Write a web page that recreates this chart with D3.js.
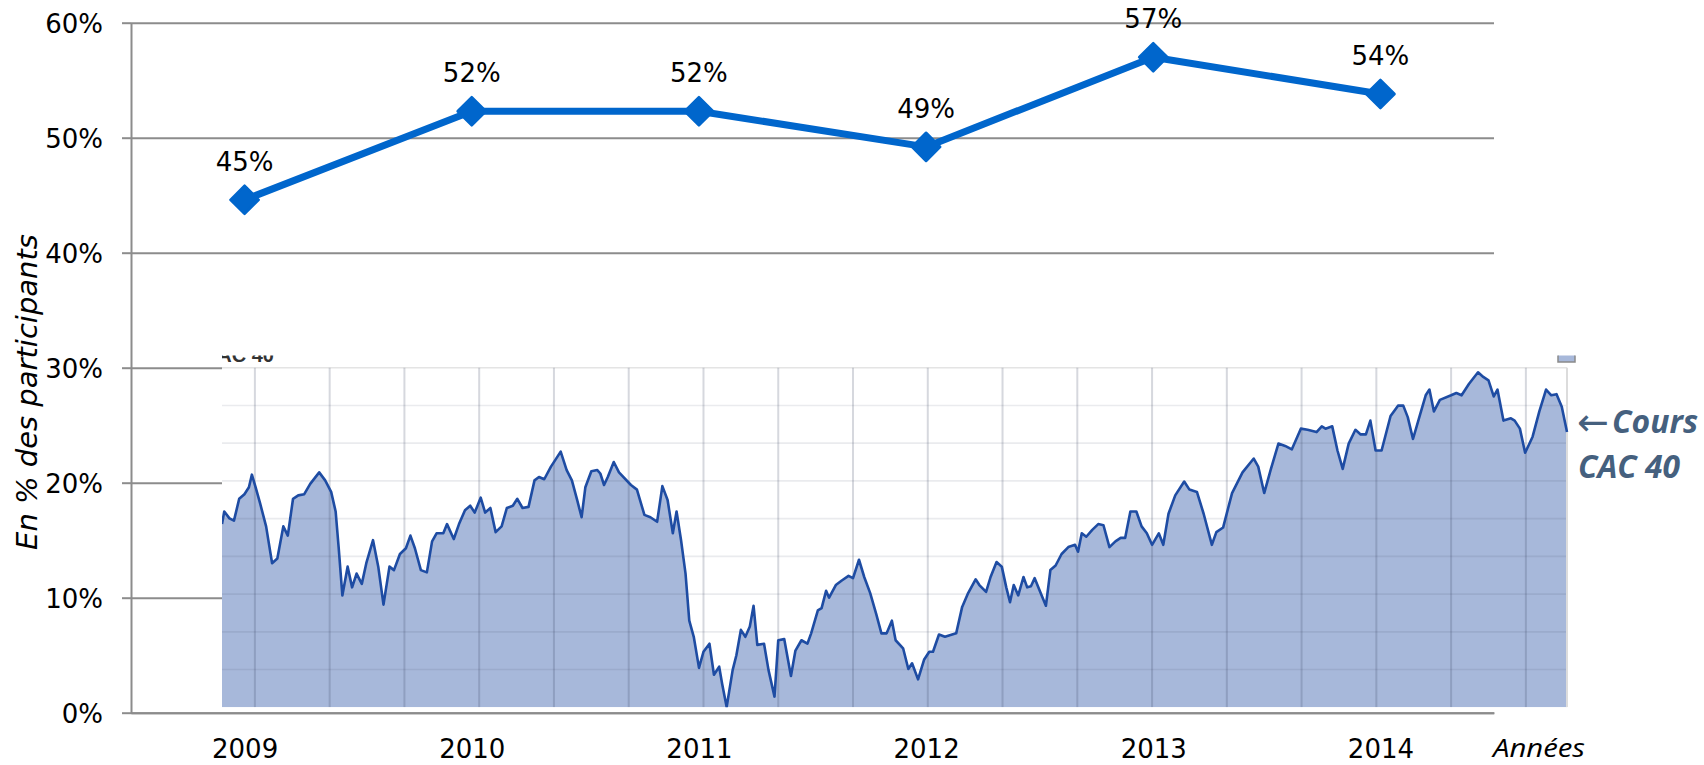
<!DOCTYPE html>
<html>
<head>
<meta charset="utf-8">
<script src="https://cdn.jsdelivr.net/npm/d3@7"></script>
<style>
  html, body { margin: 0; padding: 0; background: #fff; }
  svg { display: block; }
</style>
</head>
<body>
<svg id="chart" width="1704" height="765"></svg>
<script>
// Participation par année (part des participants)
const years = ['2009', '2010', '2011', '2012', '2013', '2014'];
const participation = [0.446, 0.523, 0.523, 0.492, 0.570, 0.538];
const yTicks = [0, 0.1, 0.2, 0.3, 0.4, 0.5, 0.6];

// Cours du CAC 40 (copie d'écran insérée),
// temps en trimestres depuis la 1re ligne verticale, niveau dans l'unité de l'axe gauche (%)
const cacQuarter = [
  -0.44, -0.41, -0.34, -0.28, -0.21, -0.14, -0.08, -0.04, 0.01, 0.07, 0.15, 0.23, 0.30, 0.38, 0.44,
  0.51, 0.58, 0.66, 0.74, 0.86, 0.94, 1.02, 1.08, 1.12, 1.17, 1.24, 1.30, 1.36, 1.43, 1.49,
  1.58, 1.65, 1.72, 1.80, 1.86, 1.94, 2.02, 2.08, 2.14, 2.22, 2.30, 2.37, 2.43, 2.52, 2.57,
  2.66, 2.73, 2.81, 2.88, 2.94, 3.02, 3.08, 3.15, 3.22, 3.30, 3.37, 3.45, 3.51, 3.58, 3.66,
  3.74, 3.80, 3.87, 3.96, 4.09, 4.17, 4.24, 4.31, 4.37, 4.42, 4.50, 4.58,
  4.62, 4.67, 4.72, 4.80, 4.87, 5.03, 5.11, 5.21, 5.29, 5.38, 5.45, 5.52, 5.59, 5.64, 5.70,
  5.76, 5.81, 5.87, 5.94, 6.00, 6.08, 6.14, 6.21, 6.25, 6.31, 6.39, 6.44, 6.50, 6.56, 6.62,
  6.67, 6.72, 6.81, 6.87, 6.95, 7.00, 7.08, 7.17, 7.23, 7.31, 7.39, 7.44, 7.53, 7.58, 7.64,
  7.68, 7.77, 7.85, 7.94, 8.00, 8.08, 8.15, 8.23, 8.31, 8.38, 8.45, 8.52, 8.57, 8.67, 8.74,
  8.79, 8.87, 8.95, 9.02, 9.07, 9.15, 9.23, 9.38, 9.46, 9.54, 9.64, 9.69, 9.78, 9.84, 9.92,
  9.99, 10.05, 10.10, 10.15, 10.21, 10.28, 10.33, 10.38, 10.43, 10.51, 10.58, 10.64, 10.71, 10.79, 10.88,
  10.97, 11.01, 11.06, 11.12, 11.20, 11.28, 11.35, 11.43, 11.51, 11.58, 11.64, 11.71, 11.79, 11.86, 11.93,
  12.00, 12.09, 12.15, 12.22, 12.31, 12.43, 12.50, 12.60, 12.69, 12.80, 12.86, 12.95, 13.07, 13.21, 13.36,
  13.42, 13.50, 13.59, 13.69, 13.78, 13.87, 13.99, 14.08, 14.20, 14.27, 14.32, 14.41, 14.48, 14.55, 14.63,
  14.72, 14.79, 14.86, 14.92, 14.99, 15.07, 15.19, 15.29, 15.36, 15.42, 15.49, 15.57, 15.66, 15.71, 15.77,
  15.85, 16.00, 16.07, 16.14, 16.24, 16.36, 16.43, 16.50, 16.57, 16.62, 16.70, 16.80, 16.85, 16.92, 16.99,
  17.09, 17.18, 17.27, 17.34, 17.41, 17.48, 17.55
];
const cacLevel = [
  16.4, 17.5, 16.9, 16.7, 18.6, 19.0, 19.6, 20.7, 19.6, 18.2, 16.2, 13.0, 13.4, 16.2, 15.4,
  18.6, 18.9, 19.0, 19.9, 20.9, 20.2, 19.2, 17.5, 14.4, 10.2, 12.7, 10.9, 12.1, 11.2, 13.0,
  15.0, 12.7, 9.4, 12.7, 12.4, 13.8, 14.3, 15.4, 14.3, 12.4, 12.2, 14.9, 15.6, 15.6, 16.4,
  15.1, 16.4, 17.6, 18.0, 17.4, 18.7, 17.4, 17.8, 15.7, 16.2, 17.8, 18.0, 18.6, 17.8, 17.9,
  20.2, 20.5, 20.3, 21.4, 22.7, 21.1, 20.2, 18.5, 17.0, 19.6, 21.0, 21.1,
  20.8, 19.8, 20.5, 21.8, 20.9, 19.8, 19.4, 17.2, 17.0, 16.6, 19.7, 18.5, 15.6, 17.5, 15.0,
  12.1, 8.0, 6.6, 3.9, 5.3, 6.0, 3.3, 4.0, 2.5, 0.5, 3.7, 5.0, 7.2, 6.6, 7.5,
  9.3, 5.9, 6.0, 3.7, 1.4, 6.3, 6.4, 3.2, 5.4, 6.3, 6.0, 6.9, 8.9, 9.1, 10.6,
  10.0, 11.1, 11.5, 11.9, 11.7, 13.3, 11.8, 10.4, 8.6, 6.9, 6.9, 8.0, 6.3, 5.6, 3.8,
  4.3, 2.9, 4.6, 5.3, 5.3, 6.8, 6.6, 6.9, 9.2, 10.4, 11.6, 11.1, 10.5, 11.8, 13.1,
  12.7, 10.9, 9.6, 11.1, 10.2, 11.8, 10.9, 11.0, 11.7, 10.4, 9.3, 12.4, 12.8, 13.8, 14.4,
  14.6, 14.0, 15.6, 15.3, 15.9, 16.4, 16.3, 14.4, 14.9, 15.2, 15.2, 17.5, 17.5, 16.2, 15.6,
  14.6, 15.6, 14.6, 17.3, 18.9, 20.1, 19.4, 19.2, 17.3, 14.6, 15.7, 16.1, 19.1, 20.9, 22.1,
  21.4, 19.1, 21.2, 23.4, 23.2, 22.9, 24.7, 24.6, 24.4, 24.9, 24.7, 24.9, 22.8, 21.2, 23.4,
  24.6, 24.2, 24.2, 25.4, 22.8, 22.8, 25.8, 26.7, 26.7, 25.7, 23.8, 25.6, 27.6, 28.1, 26.2,
  27.2, 27.6, 27.8, 27.6, 28.6, 29.6, 29.2, 28.9, 27.5, 28.1, 25.4, 25.6, 25.4, 24.7, 22.6,
  24.0, 26.2, 28.1, 27.6, 27.7, 26.6, 24.4
];
const cacQuarterLines = d3.range(0, 18);
const cacLevelLines = d3.range(1, 10);

const W = 1704, H = 765;
const plot = { left: 131, right: 1494, top: 22.7, bottom: 712.7 };
const GRID = '#8c8c8c';
const BLUE = '#0066cc';
const NOTE = '#45607e';

const svg = d3.select('#chart');
svg.append('rect').attr('width', W).attr('height', H).attr('fill', '#fff');

const x = d3.scalePoint().domain(years).range([plot.left, plot.right]).padding(0.5);
const y = d3.scaleLinear().domain([0, 0.6]).range([plot.bottom, plot.top]);

// Horizontal gridlines
svg.append('g')
  .attr('transform', `translate(${plot.left},0)`)
  .call(d3.axisLeft(y).tickValues(yTicks).tickSize(-(plot.right - plot.left)).tickFormat(''))
  .call(g => g.select('.domain').remove())
  .call(g => g.selectAll('line').attr('stroke', GRID).attr('stroke-width', 2));

// ---- Inset: CAC 40 chart pasted over the lower part ----
const inset = { left: 222, right: 1567, top: y(0.3), bottom: y(0) - 5.4 };
const cacX = d3.scaleLinear().domain([-0.44, 17.55]).range([inset.left, inset.right]);
const cacY = d3.scaleLinear().domain([0, 30]).range([y(0), y(0.3)]);
const cacGridY = d3.scaleLinear().domain([0, 9]).range([inset.bottom, inset.top]);
const clipTop = 355.5;

svg.append('clipPath').attr('id', 'inset-clip')
  .append('rect')
  .attr('x', inset.left).attr('y', clipTop)
  .attr('width', 1577 - inset.left).attr('height', inset.bottom - clipTop);

const ig = svg.append('g').attr('clip-path', 'url(#inset-clip)');
ig.append('rect')
  .attr('x', inset.left).attr('y', clipTop)
  .attr('width', 1577 - inset.left).attr('height', inset.bottom - clipTop)
  .attr('fill', '#fff');

// cropped chart title + legend swatch of the original screenshot
ig.append('text')
  .attr('x', 274).attr('y', 362)
  .attr('text-anchor', 'end')
  .attr('font-family', 'Liberation Sans, Arial, sans-serif')
  .attr('font-weight', 'bold')
  .attr('font-size', 20)
  .attr('fill', '#333')
  .text('CAC 40');
ig.append('rect')
  .attr('x', 1558).attr('y', 350).attr('width', 17).attr('height', 12)
  .attr('fill', '#a7b8da').attr('stroke', '#8a8a8a').attr('stroke-width', 1.5);

const cacArea = d3.area()
  .x((d, i) => cacX(cacQuarter[i]))
  .y0(inset.bottom)
  .y1(d => cacY(d));
const cacLine = d3.line()
  .x((d, i) => cacX(cacQuarter[i]))
  .y(d => cacY(d));

ig.append('path').datum(cacLevel).attr('d', cacArea).attr('fill', '#a7b8da');

ig.append('g').selectAll('line')
  .data(cacLevelLines)
  .join('line')
  .attr('x1', inset.left).attr('x2', inset.right)
  .attr('y1', d => cacGridY(d)).attr('y2', d => cacGridY(d))
  .attr('stroke', d => d === 9 ? '#e4e4e4' : 'rgba(50,60,90,0.1)')
  .attr('stroke-width', 1.6);

ig.append('g').selectAll('line')
  .data(cacQuarterLines)
  .join('line')
  .attr('x1', d => cacX(d)).attr('x2', d => cacX(d))
  .attr('y1', inset.top).attr('y2', inset.bottom)
  .attr('stroke', 'rgba(50,60,90,0.2)')
  .attr('stroke-width', 2);

ig.append('line')
  .attr('x1', inset.right).attr('x2', inset.right)
  .attr('y1', inset.top).attr('y2', inset.bottom)
  .attr('stroke', '#dcdcdc').attr('stroke-width', 2);

ig.append('path').datum(cacLevel)
  .attr('d', cacLine)
  .attr('fill', 'none')
  .attr('stroke', '#1e4ca3')
  .attr('stroke-width', 2.6)
  .attr('stroke-linejoin', 'round');

// ---- Axes ----
const yAxis = svg.append('g')
  .attr('transform', `translate(${plot.left},0)`)
  .call(d3.axisLeft(y).tickValues(yTicks).tickFormat(d3.format('.0%')).tickSize(9).tickSizeOuter(0).tickPadding(19));
yAxis.select('.domain').attr('stroke', GRID).attr('stroke-width', 2);
yAxis.selectAll('line').attr('stroke', GRID).attr('stroke-width', 2);
yAxis.selectAll('text')
  .attr('dy', '0.36em')
  .attr('font-family', 'DejaVu Sans, Verdana, sans-serif')
  .attr('font-size', 26)
  .attr('fill', '#000');

const xAxis = svg.append('g')
  .attr('transform', `translate(0,${plot.bottom})`)
  .call(d3.axisBottom(x).tickSize(0).tickSizeOuter(0));
xAxis.select('.domain').attr('stroke', GRID).attr('stroke-width', 2);
xAxis.selectAll('text')
  .attr('y', 45).attr('dy', 0)
  .attr('font-family', 'DejaVu Sans, Verdana, sans-serif')
  .attr('font-size', 26)
  .attr('fill', '#000');

// ---- Participation series ----
const line = d3.line()
  .x((d, i) => x(years[i]))
  .y(d => y(d));

svg.append('path').datum(participation)
  .attr('d', line)
  .attr('fill', 'none')
  .attr('stroke', BLUE)
  .attr('stroke-width', 7)
  .attr('stroke-linejoin', 'round');

svg.append('g').selectAll('path')
  .data(participation)
  .join('path')
  .attr('d', d3.symbol(d3.symbolSquare, 20 * 20))
  .attr('transform', (d, i) => `translate(${x(years[i])},${y(d)}) rotate(45)`)
  .attr('fill', BLUE)
  .attr('stroke', BLUE)
  .attr('stroke-width', 2.5)
  .attr('stroke-linejoin', 'round');

svg.append('g').selectAll('text')
  .data(participation)
  .join('text')
  .attr('x', (d, i) => x(years[i]))
  .attr('y', d => y(d) - 29)
  .attr('text-anchor', 'middle')
  .attr('font-family', 'DejaVu Sans, Verdana, sans-serif')
  .attr('font-size', 26)
  .attr('fill', '#000')
  .text(d => d3.format('.0%')(d));

// ---- Titles & notes ----
svg.append('text')
  .attr('transform', 'translate(37,392) rotate(-90)')
  .attr('text-anchor', 'middle')
  .attr('font-family', 'DejaVu Sans, Verdana, sans-serif')
  .attr('font-style', 'italic')
  .attr('font-size', 29)
  .attr('fill', '#000')
  .text('En % des participants');

svg.append('text')
  .attr('x', 1493).attr('y', 757)
  .attr('font-family', 'Open Sans, sans-serif')
  .attr('font-style', 'italic')
  .attr('font-size', 26)
  .attr('textLength', 92)
  .attr('lengthAdjust', 'spacingAndGlyphs')
  .attr('fill', '#000')
  .text('Années');

svg.append('text')
  .attr('x', 1577).attr('y', 435)
  .attr('fill', NOTE)
  .attr('font-family', 'DejaVu Sans, sans-serif')
  .attr('font-size', 38)
  .text('←');

svg.append('text')
  .attr('x', 1612).attr('y', 433)
  .attr('fill', NOTE)
  .attr('font-family', 'Open Sans, sans-serif')
  .attr('font-weight', 'bold')
  .attr('font-style', 'italic')
  .attr('font-size', 32)
  .attr('textLength', 86)
  .attr('lengthAdjust', 'spacingAndGlyphs')
  .text('Cours');

svg.append('text')
  .attr('x', 1578).attr('y', 478)
  .attr('fill', NOTE)
  .attr('font-family', 'Open Sans, sans-serif')
  .attr('font-weight', 'bold')
  .attr('font-style', 'italic')
  .attr('font-size', 32)
  .attr('textLength', 102)
  .attr('lengthAdjust', 'spacingAndGlyphs')
  .text('CAC 40');
</script>
</body>
</html>
